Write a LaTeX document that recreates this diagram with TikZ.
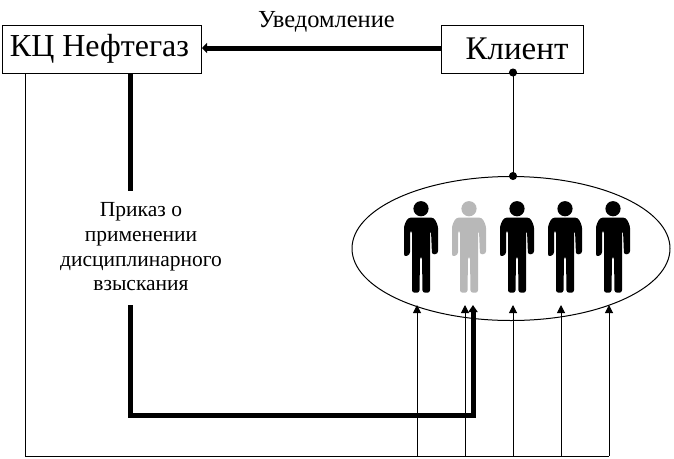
\documentclass[tikz,border=0pt]{standalone}
\usepackage{fontspec}
\setmainfont{Liberation Serif}
\usetikzlibrary{arrows.meta,calc,shapes.geometric}
\tikzset{
  x=1pt,y=-1pt,
  box/.style={draw,line width=1pt,inner sep=0pt,anchor=north west},
  thin line/.style={line width=1pt},
  thick line/.style={line width=5pt},
  up arrow/.style={line width=1pt,-{Triangle[length=8pt,width=8pt]}},
  lbl/.style={font=\fontsize{21.5}{24.7}\selectfont,align=center,inner sep=0pt},
  figure/.pic={
    \fill[pic actions] (0,0) circle (7.6);
    \fill[pic actions,rounded corners=2.5pt]
      (-17,48) -- (-17,17) -- (-13,9) -- (13,9) -- (17,17) -- (17,45) -- (11,46) -- (10,22)
      -- (9,22) -- (9,84) -- (1.5,84) -- (1,48) -- (-1,48) -- (-1.5,84) -- (-9,84) -- (-9,22)
      -- (-11,22) -- (-11,46) -- cycle;
  }
}
\begin{document}
\begin{tikzpicture}
\useasboundingbox[fill=white] (0,0) rectangle (674,458);
\node[box,minimum width=199pt,minimum height=48.5pt,font=\fontsize{32}{34}\selectfont] (kc) at (1.5,24.5) {\hspace*{-4pt}\raisebox{-6pt}{КЦ Нефтегаз}};
\node[box,minimum width=142pt,minimum height=48.5pt,font=\fontsize{33}{35}\selectfont] (cl) at (440.5,24.5) {\hspace*{10pt}\raisebox{-3pt}{Клиент}};
\node[draw,line width=1pt,ellipse,minimum width=318pt,minimum height=144pt,inner sep=0pt] (el) at (511,248.5) {};
\node[lbl,font=\fontsize{24.5}{26}\selectfont] (notice) at (326.5,21.5) {Уведомление};
\node[lbl] (order) at (141,247) {Приказ о\\применении\\дисциплинарного\\взыскания};
\coordinate (orderTop) at (130,191);
\coordinate (orderBot) at (130,305);
\coordinate (kcT) at (130,73);
\coordinate (cornerA) at (130,415);
\coordinate (cornerB) at (473,415);
\coordinate (thickTip) at (473,305);
\coordinate (bus) at (25,456);
\coordinate (p1) at (417,456);
\coordinate (p2) at (465,456);
\coordinate (p3) at (513,456);
\coordinate (p4) at (561,456);
\coordinate (p5) at (609,456);
\coordinate (arrowStart) at (440.5,48);
\coordinate (arrowEnd) at (202,48);
\coordinate (clB) at (513,72.5);
\coordinate (elT) at (513,176);
\coordinate (kcB) at (25,73);
\pic[black] at (421,208.7) {figure};
\pic[black!28] at (469,208.7) {figure};
\pic[black] at (517,208.7) {figure};
\pic[black] at (565,208.7) {figure};
\pic[black] at (613,208.7) {figure};
% connectors
\draw[line width=5pt,-{Triangle[length=5pt,width=10pt]}] (arrowStart) -- (arrowEnd);
\draw[thick line] (kcT) -- (orderTop);
\draw[thick line,-{Triangle[length=7pt,width=9pt]}] (orderBot) -- (cornerA) -- (cornerB) -- (thickTip);
\draw[thin line,shorten <=-4pt,shorten >=-4pt,{Circle[length=8pt]}-{Circle[length=8pt]}] (clB) -- (elT);
\draw[thin line] (kcB) -- (bus) -- (p5);
\foreach \p/\x in {p1/417,p2/465,p3/513,p4/561,p5/609}
  \draw[up arrow] (\p) -- (\x,305);
\end{tikzpicture}
\end{document}
